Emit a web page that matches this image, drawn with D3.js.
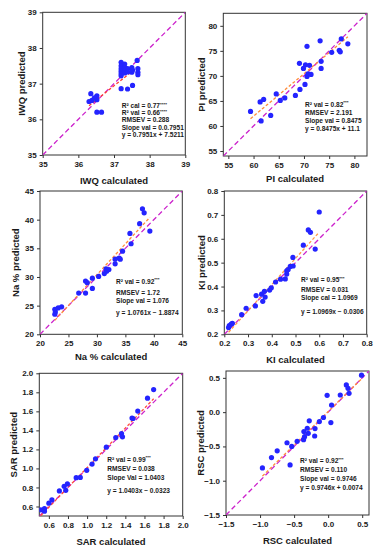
<!DOCTYPE html>
<html lang="en">
<head>
<meta charset="UTF-8">
<title>Calculated vs predicted indices</title>
<script src="https://d3js.org/d3.v7.min.js"></script>
<style>
    body { margin: 0; padding: 0; background: #fff; }
    svg { display: block; background: #fff; }
    text { font-family: 'Liberation Sans', Arial, sans-serif; font-weight: bold; fill: #1a1a1a; }
    .tick text { font-size: 8px; }
    .tick line { stroke: #333; }
    .title { font-size: 9.5px; }
    .stat { font-size: 6.6px; }
</style>
</head>
<body>
<svg id="chart" width="381" height="550"></svg>
<script>
    // ---- data ----
    const iwqX = [36.35, 36.52, 36.3, 36.38, 36.52, 36.45, 36.52, 36.65, 37.2, 37.2, 37.2, 37.2, 37.2, 37.2,
        37.3, 37.3, 37.32, 37.3, 37.38, 37.38, 37.5, 37.52, 37.5, 37.65, 37.67, 37.67, 37.67, 37.2, 37.38, 37.52];
    const iwqY = [36.72, 36.66, 36.5, 36.53, 36.55, 36.6, 36.2, 36.2, 37.6, 37.5, 37.42, 37.35, 37.28, 37.22,
        37.55, 37.45, 37.38, 37.3, 37.42, 37.33, 37.45, 37.38, 37.32, 37.65, 37.42, 37.32, 37.25, 36.86, 36.85, 36.95];
    const iwqFit = [0.7951, 7.5211];
    const iwqTicks = [35, 36, 37, 38, 39];
    const iwqStats = [["R² cal = 0.77", "****"], ["R² val = 0.66", "****"], ["RMSEV = 0.288", ""],
        ["Slope val = 0.0.7951", ""], ["y = 0.7951x + 7.5211", ""]];

    const piX = [59.4, 61.3, 62.0, 61.5, 63.4, 64.5, 65.3, 66.2, 68.3, 69.2, 69.1, 69.9, 70.3, 70.6, 71.1,
        70.2, 70.6, 70.8, 71.4, 73.2, 73.4, 73.4, 75.5, 77.0, 77.2, 77.4, 78.7];
    const piY = [62.9, 64.8, 65.3, 61.0, 62.1, 66.4, 65.1, 65.6, 66.1, 67.3, 72.5, 71.5, 72.2, 75.9, 72.1,
        68.3, 69.9, 70.4, 70.3, 77.0, 72.9, 71.5, 74.7, 75.1, 74.8, 77.4, 76.4];
    const piFit = [0.8475, 11.1];
    const piTicks = [55, 60, 65, 70, 75, 80];
    const piStats = [["R² val = 0.82", "***"], ["RMSEV = 2.191", ""], ["Slope val = 0.8475", ""],
        ["y = 0.8475x + 11.1", ""]];

    const naX = [22.6, 22.7, 22.6, 23.2, 23.8, 26.8, 28.0, 28.0, 28.3, 29.2, 29.2, 30.3, 31.3, 31.6, 31.7,
        32.1, 33.2, 33.2, 33.9, 34.1, 34.5, 35.8, 36.0, 37.5, 38.0, 38.3, 39.3];
    const naY = [24.36, 23.9, 23.5, 24.6, 24.8, 27.2, 27.2, 29.3, 29.0, 29.8, 28.0, 30.1, 30.6, 31.4, 31.0,
        31.3, 32.3, 33.1, 33.3, 33.1, 34.5, 37.6, 35.8, 39.3, 41.9, 41.2, 38.0];
    const naFit = [1.0761, -1.8874];
    const naTicks = [20, 25, 30, 35, 40, 45];
    const naStats = [["R² val = 0.92", "***"], ["RMSEV = 1.72", ""], ["Slope val = 1.076", ""],
        ["y = 1.0761x − 1.8874", ""]];

    const kiX = [0.221, 0.229, 0.218, 0.234, 0.273, 0.292, 0.331, 0.334, 0.357, 0.362, 0.369, 0.372, 0.391,
        0.398, 0.416, 0.437, 0.457, 0.463, 0.463, 0.469, 0.478, 0.490, 0.489, 0.533, 0.554, 0.563, 0.583, 0.600];
    const kiY = [0.236, 0.243, 0.228, 0.246, 0.282, 0.309, 0.319, 0.362, 0.368, 0.338, 0.380, 0.356, 0.385,
        0.395, 0.419, 0.431, 0.432, 0.452, 0.466, 0.471, 0.484, 0.486, 0.522, 0.573, 0.637, 0.627, 0.557, 0.712];
    const kiFit = [1.0969, -0.0306];
    const kiTicks = [0.2, 0.3, 0.4, 0.5, 0.6, 0.7, 0.8];
    const kiStats = [["R² val = 0.95", "***"], ["RMSEV = 0.031", ""], ["Slope cal = 1.0969", ""],
        ["y = 1.0969x −  0.0306", ""]];

    const sarX = [0.515, 0.554, 0.554, 0.60, 0.632, 0.71, 0.76, 0.777, 0.794, 0.886, 0.929, 0.996, 1.052,
        1.088, 1.201, 1.30, 1.36, 1.37, 1.47, 1.48, 1.53, 1.632, 1.696];
    const sarY = [0.565, 0.579, 0.551, 0.635, 0.67, 0.764, 0.812, 0.77, 0.837, 0.903, 0.906, 0.98, 1.046,
        1.101, 1.223, 1.324, 1.366, 1.332, 1.53, 1.525, 1.603, 1.739, 1.829];
    const sarFit = [1.0403, -0.0323];
    const sarTicks = [0.6, 0.8, 1.0, 1.2, 1.4, 1.6, 1.8, 2.0];
    const sarStats = [["R² val = 0.99", "***"], ["RMSEV = 0.038", ""], ["Slope Val = 1.0403", ""],
        ["y = 1.0403x − 0.0323", ""]];

    const rscX = [-0.965, -0.832, -0.748, -0.604, -0.559, -0.535, -0.455, -0.361, -0.356, -0.346, -0.307,
        -0.292, -0.277, -0.193, -0.198, -0.129, -0.069, -0.015, 0.040, 0.050, 0.178, 0.267, 0.292, 0.307, 0.490];
    const rscY = [-0.814, -0.662, -0.564, -0.446, -0.770, -0.500, -0.426, -0.402, -0.284, -0.358, -0.235,
        -0.309, -0.127, -0.240, -0.348, -0.137, -0.078, 0.245, -0.152, 0.103, 0.250, 0.397, 0.348, 0.275, 0.539];
    const rscFit = [0.9746, 0.0074];
    const rscTicks = [-1.5, -1.0, -0.5, 0.0, 0.5];
    const rscStats = [["R² val = 0.92", "***"], ["RMSEV = 0.110", ""], ["Slope val = 0.9746", ""],
        ["y = 0.9746x + 0.0074", ""]];

    // ---- layout for each panel (box = left, right, top, bottom) ----
    const panels = [
        { x: iwqX, y: iwqY, fit: iwqFit, ticks: iwqTicks, stats: iwqStats, dom: [35, 39], fmt: d3.format("d"),
          box: [42.7, 185.3, 12.3, 155], fitColor: "#ff3b30", xTitle: "IWQ calculated", yTitle: "IWQ predicted",
          xTitleY: 183.5, yTitleX: 25, statX: 121.7, statY: [108.1, 115.1, 122.4, 129.7, 137.1] },
        { x: piX, y: piY, fit: piFit, ticks: piTicks, stats: piStats, dom: [54, 82.5], fmt: d3.format("d"),
          box: [223.3, 367, 13.3, 156], fitColor: "#ff8c3a", xTitle: "PI calculated", yTitle: "PI predicted",
          xTitleY: 181.5, yTitleX: 204.5, statX: 305, statY: [106.7, 114.7, 123.1, 131.4] },
        { x: naX, y: naY, fit: naFit, ticks: naTicks, stats: naStats, dom: [20, 45], fmt: d3.format("d"),
          box: [40, 182.3, 191, 334.3], fitColor: "#ff8c3a", xTitle: "Na % calculated", yTitle: "Na % predicted",
          xTitleY: 359.5, yTitleX: 18.5, statX: 116, statY: [283.7, 294.7, 303.1, 314.7] },
        { x: kiX, y: kiY, fit: kiFit, ticks: kiTicks, stats: kiStats, dom: [0.2, 0.8], fmt: d3.format(".1f"),
          box: [224.3, 366.7, 191, 334.3], fitColor: "#ff9a4a", xTitle: "KI calculated", yTitle: "KI predicted",
          xTitleY: 362.5, yTitleX: 204.5, statX: 301, statY: [282.1, 291.7, 300.4, 313.7] },
        { x: sarX, y: sarY, fit: sarFit, ticks: sarTicks, stats: sarStats, dom: [0.5, 2.0], fmt: d3.format(".1f"),
          box: [39.3, 182.7, 373.3, 516], fitColor: "#ff4a3a", xTitle: "SAR calculated", yTitle: "SAR predicted",
          xTitleY: 545, yTitleX: 17, statX: 107.3, statY: [461.7, 470.7, 480.4, 493.1] },
        { x: rscX, y: rscY, fit: rscFit, ticks: rscTicks, stats: rscStats, dom: [-1.5, 0.6], fmt: d3.format(".1f"),
          box: [226, 369, 371, 515], fitColor: "#ff8c3a", xTitle: "RSC calculated", yTitle: "RSC predicted",
          xTitleY: 544, yTitleX: 203.5, statX: 300, statY: [463.1, 472.1, 481.1, 489.7] }
    ];

    const svg = d3.select("#chart");

    panels.forEach((p, i) => {
        const [l, r, t, b] = p.box;
        const xScale = d3.scaleLinear().domain(p.dom).range([l, r]);
        const yScale = d3.scaleLinear().domain(p.dom).range([b, t]);
        const g = svg.append("g");

        g.append("clipPath").attr("id", "clip" + i)
            .append("rect").attr("x", l).attr("y", t).attr("width", r - l).attr("height", b - t);

        // axes
        g.append("g")
            .attr("transform", `translate(0,${b})`)
            .call(d3.axisBottom(xScale).tickValues(p.ticks).tickFormat(p.fmt).tickSize(3).tickSizeOuter(0).tickPadding(3))
            .call(a => a.select(".domain").remove());
        g.append("g")
            .attr("transform", `translate(${l},0)`)
            .call(d3.axisLeft(yScale).tickValues(p.ticks).tickFormat(p.fmt).tickSize(3).tickSizeOuter(0).tickPadding(3))
            .call(a => a.select(".domain").remove());

        // frame
        g.append("rect")
            .attr("x", l).attr("y", t).attr("width", r - l).attr("height", b - t)
            .attr("fill", "none").attr("stroke", "#333").attr("stroke-width", 1);

        const plot = g.append("g").attr("clip-path", `url(#clip${i})`);

        // 1:1 line
        plot.append("line")
            .attr("x1", xScale(p.dom[0])).attr("y1", yScale(p.dom[0]))
            .attr("x2", xScale(p.dom[1])).attr("y2", yScale(p.dom[1]))
            .attr("stroke", "#cc22cc").attr("stroke-width", 1.3).attr("stroke-dasharray", "5,3");

        // regression line over the data range
        const [xmin, xmax] = d3.extent(p.x);
        plot.append("line")
            .attr("x1", xScale(xmin)).attr("y1", yScale(p.fit[0] * xmin + p.fit[1]))
            .attr("x2", xScale(xmax)).attr("y2", yScale(p.fit[0] * xmax + p.fit[1]))
            .attr("stroke", p.fitColor).attr("stroke-width", 1.3).attr("stroke-dasharray", "3,2");

        // points
        plot.selectAll("circle")
            .data(p.x.map((v, k) => [v, p.y[k]]))
            .join("circle")
            .attr("cx", d => xScale(d[0]))
            .attr("cy", d => yScale(d[1]))
            .attr("r", 2.6)
            .attr("fill", "#2424ff");

        // axis titles
        g.append("text").attr("class", "title")
            .attr("x", (l + r) / 2).attr("y", p.xTitleY)
            .attr("text-anchor", "middle").text(p.xTitle);
        g.append("text").attr("class", "title")
            .attr("transform", `translate(${p.yTitleX},${(t + b) / 2}) rotate(-90)`)
            .attr("text-anchor", "middle").text(p.yTitle);

        // statistics block
        p.stats.forEach((s, k) => {
            const txt = g.append("text").attr("class", "stat")
                .attr("x", p.statX).attr("y", p.statY[k]);
            txt.append("tspan").text(s[0]);
            if (s[1]) {
                txt.append("tspan").attr("dy", -2.4).style("font-size", "4.4px").text(s[1]);
            }
        });
    });
</script>
</body>
</html>
